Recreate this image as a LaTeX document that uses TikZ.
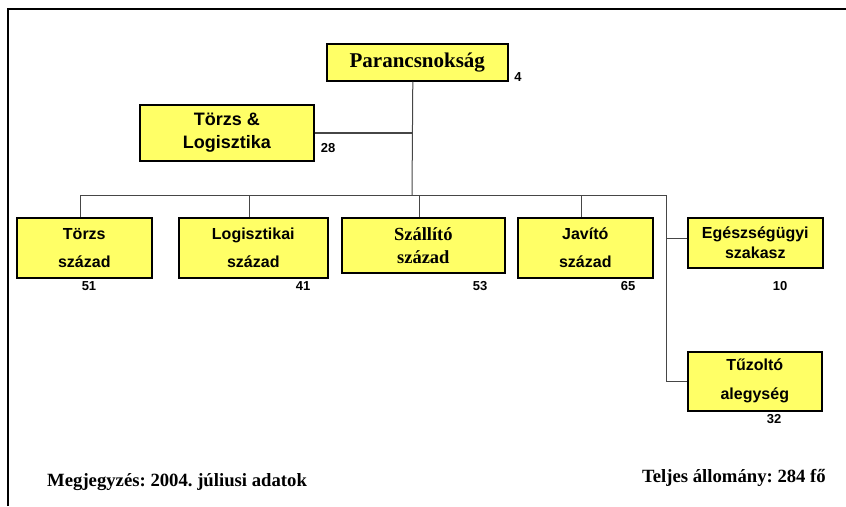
\documentclass[tikz,border=0pt]{standalone}
\usepackage{fontspec}
\setmainfont{Liberation Serif}
\newfontfamily\arial{Liberation Sans}
\definecolor{unityellow}{RGB}{255,255,102}
\definecolor{linkgray}{RGB}{70,70,70}
\frenchspacing
\begin{document}
\begin{tikzpicture}[x=1pt,y=-1pt,
  unit/.style={draw=black,line width=1.6pt,fill=unityellow,inner sep=0pt,
    align=center,anchor=north west},
  sansbox/.style={unit,font=\arial\bfseries\fontsize{16}{28}\selectfont},
  serifbox/.style={unit,font=\bfseries\fontsize{18.5}{23}\selectfont},
  count/.style={font=\arial\bfseries\fontsize{13}{15}\selectfont,inner sep=0pt},
  link/.style={draw=linkgray,line width=1pt},
  note/.style={font=\bfseries\fontsize{18.7}{20}\selectfont,inner sep=0pt}]
\useasboundingbox (0,0) rectangle (846,506);
% page frame (top and left edges)
\draw[line width=2.5pt] (8,506) -- (8,9) -- (846,9);

% command and staff
\node[unit,font=\bfseries\fontsize{21}{24}\selectfont,minimum width=181,minimum height=37]
  (par) at (326,43) {Parancsnokság};
\node[sansbox,font=\arial\bfseries\fontsize{18}{23}\selectfont,minimum width=174,minimum height=56]
  (tlog) at (139,104) {Törzs \&\\Logisztika};

% subordinate units
\node[sansbox,minimum width=135,minimum height=60] (tsz) at (16,217) {Törzs\\század};
\node[sansbox,minimum width=149,minimum height=60] (lsz) at (178,217) {Logisztikai\\század};
\node[serifbox,minimum width=163,minimum height=55] (ssz) at (341,217) {Szállító\\század};
\node[sansbox,minimum width=135,minimum height=60] (jsz) at (517,217) {Javító\\század};
\node[sansbox,font=\arial\bfseries\fontsize{16}{20}\selectfont,minimum width=135,minimum height=50]
  (esz) at (687,217) {Egészségügyi\\szakasz};
\node[sansbox,font=\arial\bfseries\fontsize{16}{29}\selectfont,minimum width=134,minimum height=59]
  (tuz) at (687,351) {Tűzoltó\\alegység};

% headcounts
\node[count] (n4) at (518,77) {4};
\node[count] (n28) at (328,148) {28};
\node[count] (n51) at (89,286) {51};
\node[count] (n41) at (303,286) {41};
\node[count] (n53) at (480,286) {53};
\node[count] (n65) at (628,286) {65};
\node[count] (n10) at (780,286) {10};
\node[count] (n32) at (774,419) {32};

% connectors
\coordinate (trunk) at (412,195);
\coordinate (busL) at (80,195);
\coordinate (busR) at (666,195);
\draw[link] ([xshift=-4.5pt]par.south) -- (trunk);
\draw[link,line width=1.5pt] (tlog.east) -- (tlog.east -| trunk);
\draw[link] (busL) -- (busR);
\draw[link] ([xshift=-3.5pt]tsz.north) -- ([xshift=-3.5pt]tsz.north |- busL);
\draw[link] ([xshift=-3.5pt]lsz.north) -- ([xshift=-3.5pt]lsz.north |- busL);
\draw[link] ([xshift=-3.5pt]ssz.north) -- ([xshift=-3.5pt]ssz.north |- busL);
\draw[link] ([xshift=-3.5pt]jsz.north) -- ([xshift=-3.5pt]jsz.north |- busL);
\draw[link] (busR) |- (tuz.west);
\draw[link] ([yshift=4pt]esz.west) -- ([yshift=4pt]esz.west -| busR);

% footnotes
\node[note,anchor=west] (rem) at (47,482) {Megjegyzés: 2004. júliusi adatok};
\node[note,anchor=east] (tot) at (826,478) {Teljes állomány: 284 fő};
\end{tikzpicture}
\end{document}
